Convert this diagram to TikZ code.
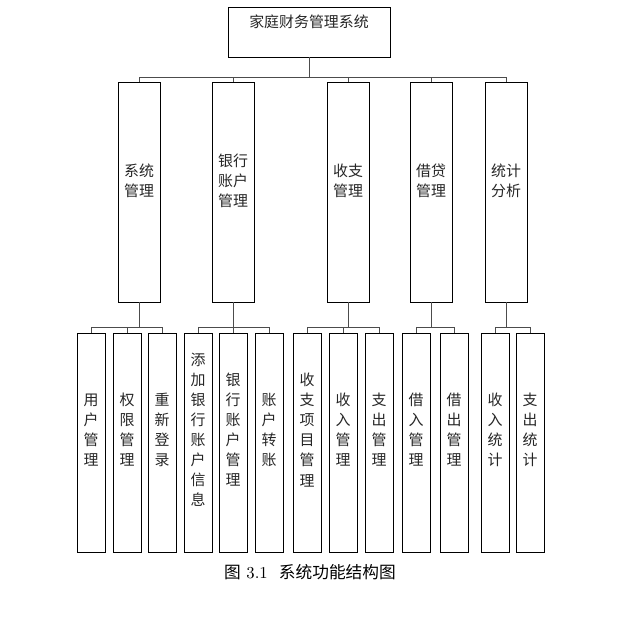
\documentclass[tikz,border=0pt]{standalone}
\usepackage{fontspec}
\newfontfamily\cjk{Noto Sans CJK SC}
\usetikzlibrary{positioning}
\tikzset{
  box/.style={draw, line width=0.45pt, inner sep=0pt},
  lbl/.style={font=\cjk\fontsize{8.5}{11.4}\selectfont, align=center, text=black!85},
  bus/.style={draw=black!70, line width=0.5pt}
}
\begin{document}
\begin{tikzpicture}[x=0.02cm,y=-0.02cm]
  \useasboundingbox (0,0) rectangle (639,630);
  % root
  \node[box, minimum width=162*0.02cm, minimum height=50*0.02cm] (root) at (309,32) {};
  \node[lbl] at (309,22) {家庭财务管理系统};
  \draw[bus] (root.south) -- (309,77);
  \draw[bus] (139,77) -- (506,77);
  % level 2
  \foreach \n/\x/\t in {sys/139/系统\\管理, bank/233/银行\\账户\\管理, inout/348/收支\\管理, loan/431/借贷\\管理, stat/506/统计\\分析}{
    \node[box, minimum width=42*0.02cm, minimum height=220*0.02cm] (\n) at (\x,192) {};
    \node[lbl] at (\x,181) {\t};
    \draw[bus] (\x,77) -- (\n.north);
  }
  % level 3
  \foreach \p/\a/\b/\nx in {sys/91/162/139, bank/198/269/233, inout/307/379/348, loan/416/454/431, stat/495/530/506}{
    \draw[bus] (\p.south) -- (\nx,327);
    \draw[bus] (\a,327) -- (\b,327);
  }
  \foreach \n/\x/\t in {u1/91/用\\户\\管\\理, u2/127/权\\限\\管\\理, u3/162/重\\新\\登\\录,
      b1/198/添\\加\\银\\行\\账\\户\\信\\息, b2/233/银\\行\\账\\户\\管\\理, b3/269/账\\户\\转\\账,
      s1/307/收\\支\\项\\目\\管\\理, s2/343/收\\入\\管\\理, s3/379/支\\出\\管\\理,
      l1/416/借\\入\\管\\理, l2/454/借\\出\\管\\理,
      t1/495/收\\入\\统\\计, t2/530/支\\出\\统\\计}{
    \node[box, minimum width=28*0.02cm, minimum height=219*0.02cm] (\n) at (\x,442.5) {};
    \node[lbl] at (\x,430) {\t};
    \draw[bus] (\x,327) -- (\n.north);
  }
  % caption
  \node[font=\fontsize{9.5}{11}\selectfont] (cap) at (310,572) {{\cjk 图} 3.1\ \ {\cjk 系统功能结构图}};
\end{tikzpicture}
\end{document}
